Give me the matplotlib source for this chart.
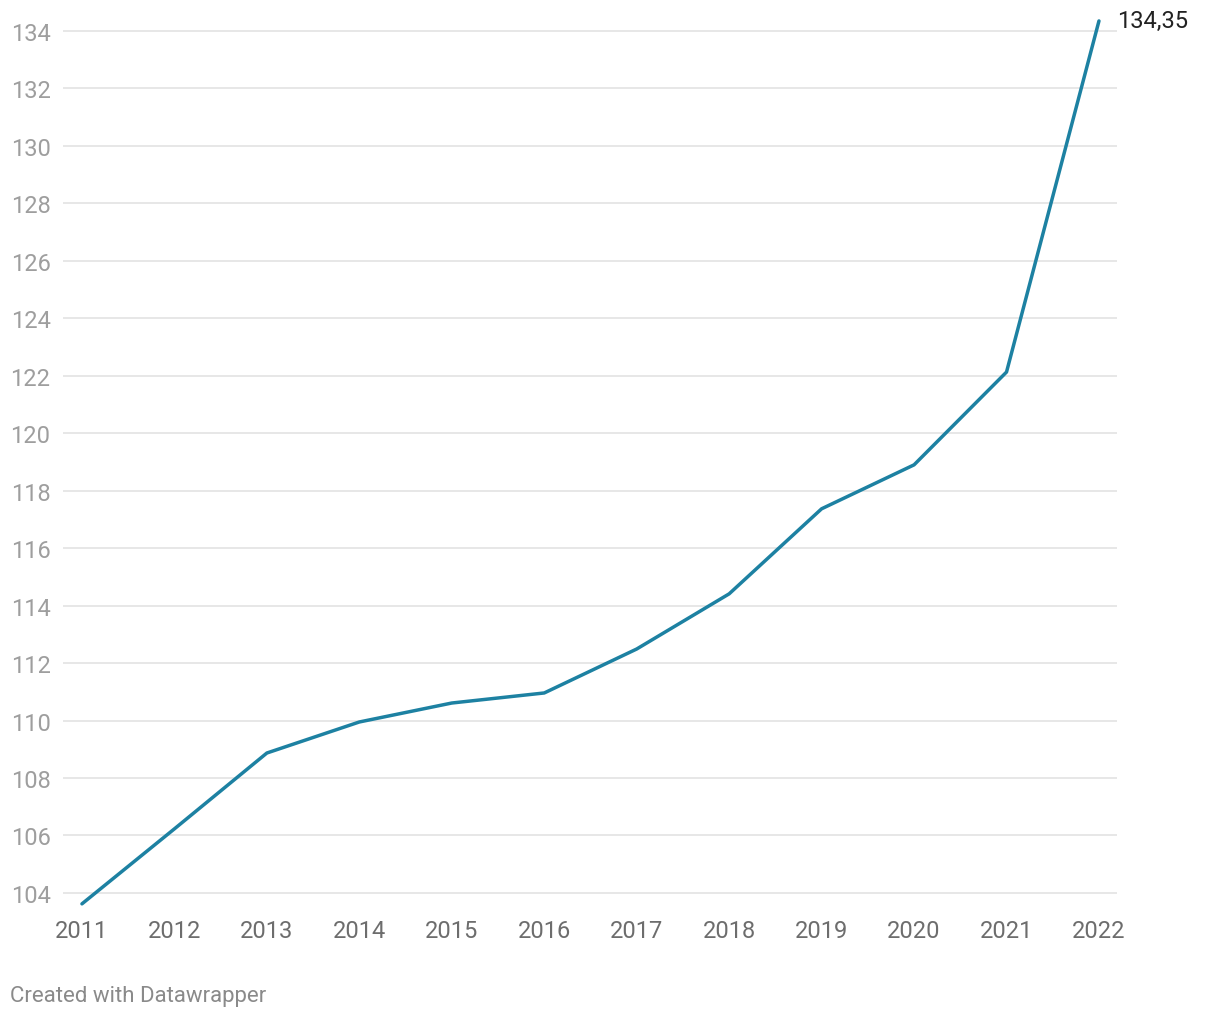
import matplotlib
matplotlib.use("Agg")
import matplotlib.pyplot as plt

plt.rcParams["font.family"] = ["Roboto", "DejaVu Sans"]

years = [2011, 2012, 2013, 2014, 2015, 2016, 2017, 2018, 2019, 2020, 2021, 2022]
values = [103.62, 106.23, 108.87, 109.95, 110.61, 110.96, 112.49, 114.41, 117.37, 118.90, 122.13, 134.35]
y_ticks = list(range(104, 135, 2))
end_label = "134,35"

line_color = "#1d81a2"

fig = plt.figure(figsize=(12.2, 10.2), dpi=100)
ax = fig.add_axes([63 / 1220, 1 - 906 / 1020, (1117 - 63) / 1220, (906 - 16) / 1020])

ax.plot(years, values, color=line_color, lw=2.5, clip_on=False, solid_capstyle="round", zorder=3)

ax.set_xlim(2010.795, 2022.195)
ax.set_ylim(103.58, 134.557)
ax.set_xticks(years)
ax.set_yticks(y_ticks)
ax.grid(axis="y", color="#e3e3e3", lw=1.2)
ax.grid(axis="x", visible=False)
for s in ax.spines.values():
    s.set_visible(False)
ax.tick_params(axis="y", length=0, pad=9, labelsize=17, labelcolor="#9e9e9e")
ax.tick_params(axis="x", length=0, pad=10, labelsize=17, labelcolor="#6d6d6d")

ax.annotate(end_label, xy=(years[-1], values[-1]), xytext=(13, 0), textcoords="offset points",
            ha="left", va="center", fontsize=17, color="#222222", annotation_clip=False)

fig.text(10 / 1220, 1 - 997 / 1020, "Created with Datawrapper", ha="left", va="center",
         fontsize=16, color="#8a8a8a")

fig.savefig("out.png", dpi=100)
